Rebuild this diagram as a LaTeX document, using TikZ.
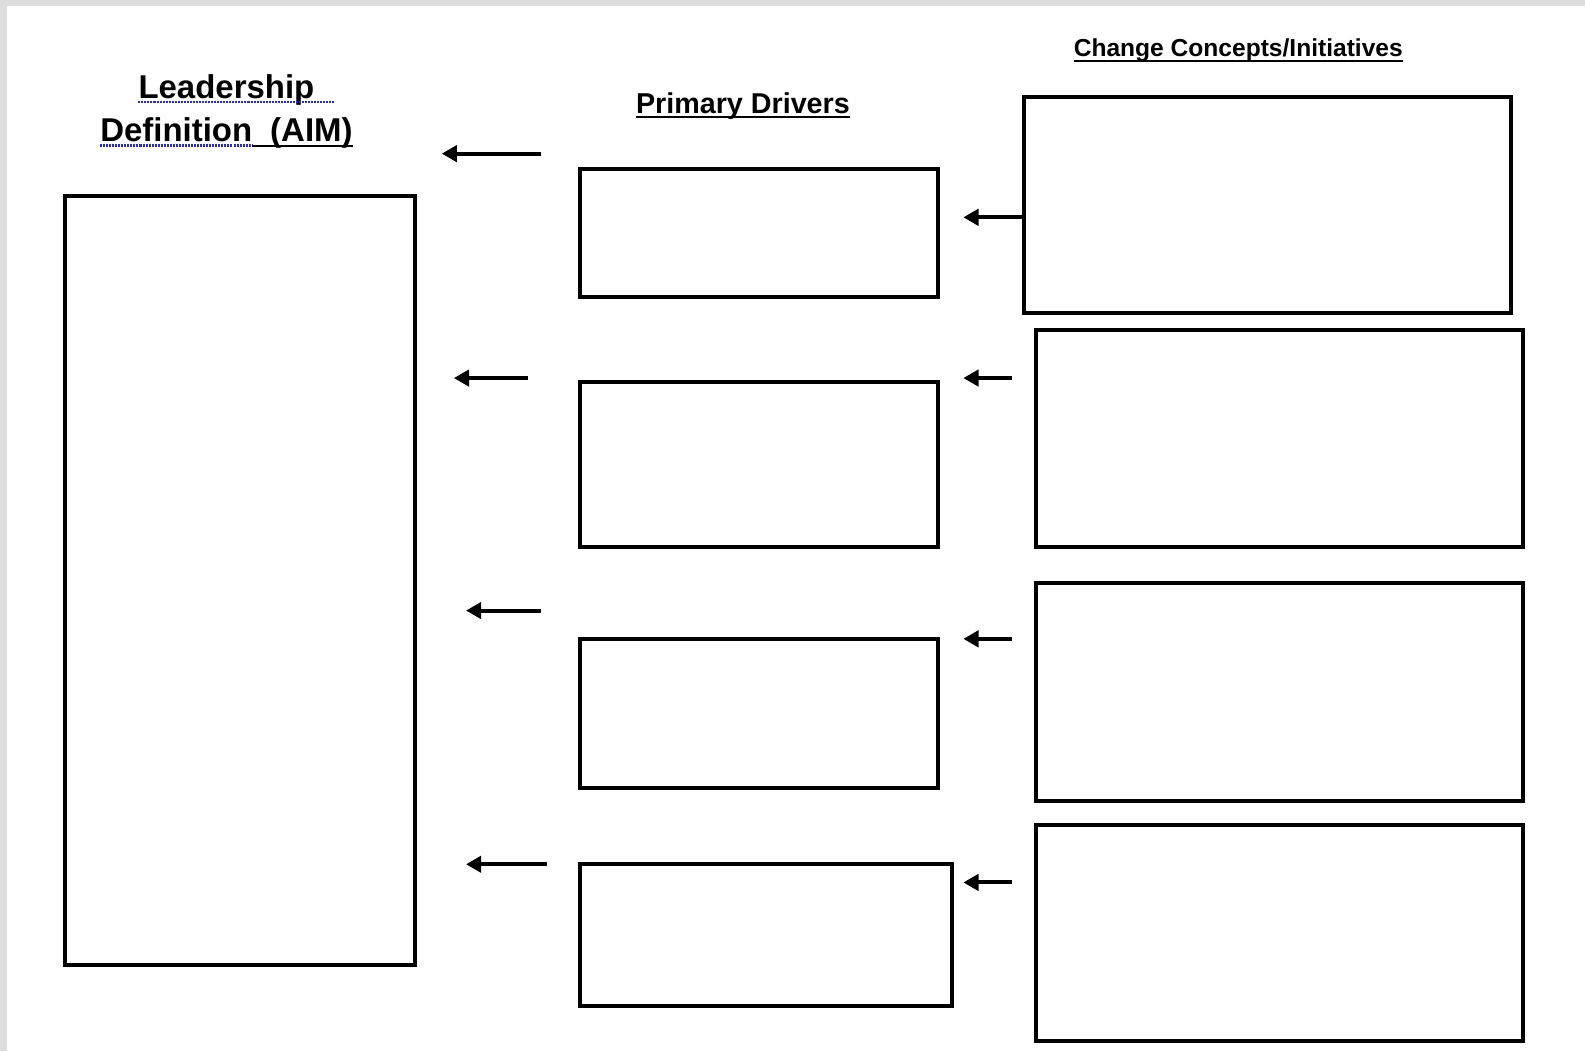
\documentclass[tikz,border=0pt]{standalone}
\usepackage{fontspec}
\setmainfont{Liberation Sans}
\usetikzlibrary{arrows.meta}
\definecolor{pagegray}{RGB}{221,221,221}
\definecolor{spell}{RGB}{45,45,175}
\begin{document}
\begin{tikzpicture}[x=1pt,y=-1pt,
  box/.style={draw=black,line width=4pt,rectangle,anchor=north west,inner sep=0pt,outer sep=0pt},
  arr/.style={line width=4pt,-{Triangle[length=15pt,width=16pt]}},
  title/.style={font=\bfseries, inner sep=0pt},
  uline/.style={line width=2pt},
  squiggle/.style={line width=2.5pt,spell,dash pattern=on 2pt off 1pt}]
\useasboundingbox (0,0) rectangle (1568,1040);
\fill[pagegray] (0,0) rectangle (1568,1040);
\fill[white] (7,6) rectangle (1568,1040);

% titles
\node[title,anchor=base,font=\bfseries\fontsize{32.6}{40}\selectfont] (lead) at (224,97) {Leadership};
\node[title,anchor=base west,font=\bfseries\fontsize{32.6}{40}\selectfont] (def) at (99,140) {Definition};
\node[title,anchor=base east,font=\bfseries\fontsize{32.6}{40}\selectfont] (aim) at (349,140) {(AIM)};
\node[title,anchor=base,font=\bfseries\fontsize{28.4}{34}\selectfont] (prim) at (735,112) {Primary Drivers};
\node[title,anchor=base,font=\bfseries\fontsize{24.3}{30}\selectfont] (chg) at (1225,56) {Change Concepts/Initiatives};

\draw[squiggle] ([yshift=-4pt]lead.base west) -- ([yshift=-4pt,xshift=20pt]lead.base east);
\draw[squiggle] ([yshift=-4pt]def.base west) -- ([yshift=-4pt]def.base east);
\draw[uline] ([yshift=-4pt]def.base east) -- ([yshift=-4pt]aim.base east);
\draw[uline] ([yshift=-4pt]prim.base west) -- ([yshift=-4pt]prim.base east);
\draw[uline] ([yshift=-4pt]chg.base west) -- ([yshift=-4pt]chg.base east);

% aim box
\node[box,minimum width=347pt,minimum height=761pt] (aimbox) at (64,194) {};

% primary drivers
\node[box,minimum width=354pt,minimum height=127pt] (p1) at (574,167) {};
\node[box,minimum width=354pt,minimum height=163pt] (p2) at (574,378) {};
\node[box,minimum width=354pt,minimum height=148pt] (p3) at (574,632) {};
\node[box,minimum width=368pt,minimum height=140pt] (p4) at (574,855) {};

% change concepts
\node[box,minimum width=482pt,minimum height=214pt] (c1) at (1013,96) {};
\node[box,minimum width=482pt,minimum height=215pt] (c2) at (1025,326) {};
\node[box,minimum width=482pt,minimum height=215pt] (c3) at (1025,577) {};
\node[box,minimum width=482pt,minimum height=214pt] (c4) at (1025,816) {};

% left arrows
\coordinate (la1s) at (535,152); \coordinate (la1e) at (437,152);
\coordinate (la2s) at (522,374); \coordinate (la2e) at (449,374);
\coordinate (la3s) at (535,604); \coordinate (la3e) at (461,604);
\coordinate (la4s) at (541,855); \coordinate (la4e) at (461,855);
\draw[arr] (la1s) -- (la1e);
\draw[arr] (la2s) -- (la2e);
\draw[arr] (la3s) -- (la3e);
\draw[arr] (la4s) -- (la4e);

% right arrows
\coordinate (ra1e) at (953,215);
\coordinate (ra2s) at (1001,374); \coordinate (ra2e) at (953,374);
\coordinate (ra3s) at (1001,632); \coordinate (ra3e) at (953,632);
\coordinate (ra4s) at (1001,873); \coordinate (ra4e) at (953,873);
\draw[arr] (c1.west |- ra1e) -- (ra1e);
\draw[arr] (ra2s) -- (ra2e);
\draw[arr] (ra3s) -- (ra3e);
\draw[arr] (ra4s) -- (ra4e);
\end{tikzpicture}
\end{document}
